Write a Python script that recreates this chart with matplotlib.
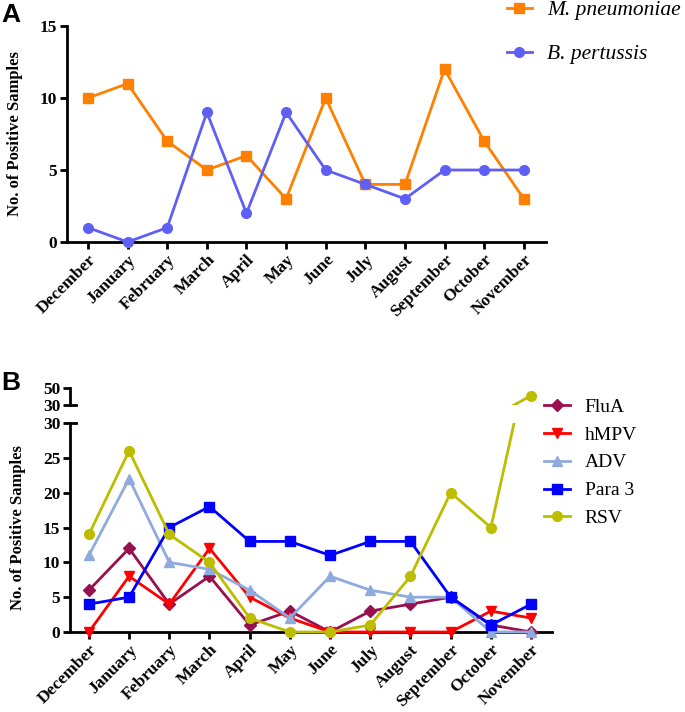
import matplotlib
matplotlib.use("Agg")
import matplotlib.pyplot as plt
from matplotlib.patches import Rectangle

months = ["December", "January", "February", "March", "April", "May",
          "June", "July", "August", "September", "October", "November"]

# panel A
m_pneumoniae = [10, 11, 7, 5, 6, 3, 10, 4, 4, 12, 7, 3]
b_pertussis = [1, 0, 1, 9, 2, 9, 5, 4, 3, 5, 5, 5]

# panel B
flua = [6, 12, 4, 8, 1, 3, 0, 3, 4, 5, 1, 0]
hmpv = [0, 8, 4, 12, 5, 2, 0, 0, 0, 0, 3, 2]
adv = [11, 22, 10, 9, 6, 2, 8, 6, 5, 5, 0, 0]
para3 = [4, 5, 15, 18, 13, 13, 11, 13, 13, 5, 1, 4]
rsv = [14, 26, 14, 10, 2, 0, 0, 1, 8, 20, 15, 41]

serif = "Liberation Serif"
plt.rcParams["font.family"] = serif
plt.rcParams["axes.linewidth"] = 2

W, H = 685, 712
fig = plt.figure(figsize=(W / 100, H / 100), dpi=100)


def px_axes(left, right, top, bottom):
    return fig.add_axes([left / W, 1 - bottom / H, (right - left) / W, (bottom - top) / H])


def style(ax):
    ax.spines["top"].set_visible(False)
    ax.spines["right"].set_visible(False)
    ax.tick_params(direction="out", length=5, width=2, labelsize=12.5, pad=2)
    for lbl in ax.get_yticklabels():
        lbl.set_fontweight("bold")


x = list(range(len(months)))

# ---------- Panel A ----------
axA = px_axes(67, 546, 26, 242)
axA.plot(x, m_pneumoniae, color="#FF8000", lw=2, marker="s", ms=7,
         label="M. pneumoniae", clip_on=False, zorder=3)
axA.plot(x, b_pertussis, color="#5F5FF5", lw=2, marker="o", ms=7,
         label="B. pertussis", clip_on=False, zorder=3)
axA.set_ylim(0, 15)
axA.set_yticks([0, 5, 10, 15])
axA.set_xlim(-0.53, 11.56)
axA.set_xticks(x)
axA.set_xticklabels(months, rotation=45, ha="right", rotation_mode="anchor",
                    fontweight="bold", fontsize=13.3)
style(axA)
axA.set_ylabel("No. of Positive Samples", fontweight="bold", fontsize=12, labelpad=12)
hA, lA = axA.get_legend_handles_labels()
fig.legend(hA, lA, loc="upper left", bbox_to_anchor=(507 / W, 1.0),
           frameon=False, borderpad=0, borderaxespad=0, handlelength=1.15,
           handletextpad=0.7, labelspacing=1.12,
           prop={"family": serif, "style": "italic", "size": 15.5})
fig.text(1 / W, 1 - 15 / H, "A", fontsize=19, fontweight="bold",
         family="Liberation Sans", va="center", ha="left")

# ---------- Panel B ----------
axB = px_axes(70, 552, 423, 632)
axT = px_axes(70, 552, 388, 405)
series = [
    ("FluA", flua, "#99104E", "D", 6),
    ("hMPV", hmpv, "#FF0000", "v", 7),
    ("ADV", adv, "#8FAADC", "^", 7),
    ("Para 3", para3, "#0000FF", "s", 7),
    ("RSV", rsv, "#BDBD00", "o", 7),
]
for name, vals, col, mk, ms in series:
    ln, = axB.plot(x, vals, color=col, lw=2, marker=mk, ms=ms, label=name,
                   clip_on=False, zorder=3)
    if max(vals) > 30:
        # cut the line at the axis break, keep the low markers whole
        rect = Rectangle((-1, -3), 14, 33, transform=axB.transData)
        ln.set_clip_path(rect)
        ln.set_clip_on(True)
        axT.plot(x, vals, color=col, lw=2, zorder=3)
        hi = [(i, v) for i, v in zip(x, vals) if v > 30]
        axT.plot([p[0] for p in hi], [p[1] for p in hi], ls="none", marker=mk,
                 ms=ms, color=col, clip_on=False, zorder=4)

axB.set_ylim(0, 30)
axB.set_yticks([0, 5, 10, 15, 20, 25, 30])
axB.set_xlim(-0.47, 11.52)
axB.set_xticks(x)
axB.set_xticklabels(months, rotation=45, ha="right", rotation_mode="anchor",
                    fontweight="bold", fontsize=13.3)
style(axB)
axB.set_ylabel("No. of Positive Samples", fontweight="bold", fontsize=12, labelpad=12)

axT.set_ylim(30, 50)
axT.set_yticks([30, 50])
axT.set_xlim(axB.get_xlim())
axT.set_xticks([])
axT.spines["bottom"].set_visible(False)
style(axT)
axT.patch.set_visible(False)
# break marks
axT.plot([0, 0.012], [0, 0], transform=axT.transAxes, color="black", lw=2,
         clip_on=False)
axB.plot([0, 0.012], [1, 1], transform=axB.transAxes, color="black", lw=2,
         clip_on=False)

hB, lB = axB.get_legend_handles_labels()
fig.legend(hB, lB, loc="upper left", bbox_to_anchor=(544 / W, 1 - 398 / H),
           frameon=False, borderpad=0, borderaxespad=0, handlelength=1.35,
           handletextpad=0.75, labelspacing=0.53,
           prop={"family": serif, "size": 14})
fig.text(1 / W, 1 - 383 / H, "B", fontsize=19, fontweight="bold",
         family="Liberation Sans", va="center", ha="left")

fig.savefig("out.png", dpi=100)
